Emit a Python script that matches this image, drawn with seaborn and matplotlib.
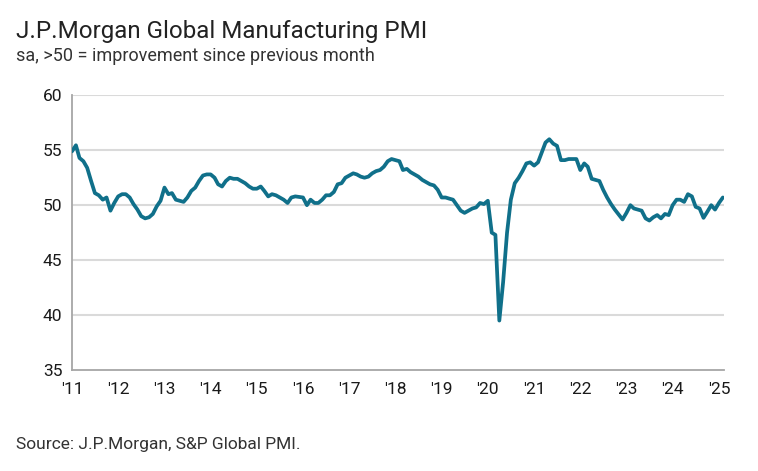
import pandas as pd
import numpy as np
import matplotlib
matplotlib.use("Agg")
import matplotlib.pyplot as plt
import seaborn as sns

# valores, mensal jan/2011 - fev/2025
pmi_2011 = [54.9, 55.45, 54.3, 54.0, 53.4, 52.2, 51.1, 50.9, 50.5, 50.7, 49.5, 50.2]
pmi_2012 = [50.8, 51.0, 51.0, 50.7, 50.1, 49.6, 49.0, 48.8, 48.9, 49.2, 49.9, 50.4]
pmi_2013 = [51.6, 51.0, 51.1, 50.5, 50.4, 50.3, 50.7, 51.3, 51.6, 52.2, 52.7, 52.8]
pmi_2014 = [52.8, 52.5, 51.9, 51.7, 52.2, 52.5, 52.4, 52.4, 52.2, 52.0, 51.7, 51.5]
pmi_2015 = [51.5, 51.7, 51.3, 50.8, 51.0, 50.9, 50.7, 50.5, 50.2, 50.7, 50.8, 50.75]
pmi_2016 = [50.7, 50.0, 50.5, 50.2, 50.2, 50.5, 50.9, 50.9, 51.2, 51.9, 52.0, 52.5]
pmi_2017 = [52.7, 52.9, 52.8, 52.6, 52.5, 52.6, 52.9, 53.1, 53.2, 53.5, 54.0, 54.2]
pmi_2018 = [54.1, 54.0, 53.2, 53.3, 53.0, 52.8, 52.6, 52.3, 52.1, 51.9, 51.8, 51.4]
pmi_2019 = [50.7, 50.7, 50.6, 50.5, 50.0, 49.5, 49.3, 49.5, 49.7, 49.8, 50.2, 50.1]
pmi_2020 = [50.4, 47.5, 47.3, 39.5, 43.0, 47.5, 50.5, 52.0, 52.5, 53.1, 53.8, 53.9]
pmi_2021 = [53.6, 53.9, 54.75, 55.7, 56.0, 55.6, 55.4, 54.1, 54.1, 54.2, 54.2, 54.2]
pmi_2022 = [53.2, 53.8, 53.5, 52.4, 52.3, 52.2, 51.4, 50.7, 50.1, 49.6, 49.15, 48.7]
pmi_2023 = [49.3, 50.0, 49.7, 49.6, 49.5, 48.8, 48.6, 48.9, 49.1, 48.8, 49.2, 49.1]
pmi_2024 = [50.0, 50.5, 50.5, 50.3, 51.0, 50.8, 49.85, 49.7, 48.85, 49.4, 50.0, 49.6]
pmi_2025 = [50.2, 50.7]

anos = list(range(2011, 2026))
rotulos_x = ["'" + str(a)[2:] for a in anos]
ticks_y = [35, 40, 45, 50, 55, 60]

valores = (pmi_2011 + pmi_2012 + pmi_2013 + pmi_2014 + pmi_2015 + pmi_2016 + pmi_2017
           + pmi_2018 + pmi_2019 + pmi_2020 + pmi_2021 + pmi_2022 + pmi_2023 + pmi_2024 + pmi_2025)
datas = pd.date_range("2011-01-01", periods=len(valores), freq="MS")
df = pd.DataFrame({"Data": datas, "PMI": valores})

sns.set_style("white")
plt.rcParams["font.family"] = ["Roboto", "DejaVu Sans"]

fig = plt.figure(figsize=(7.58, 4.71), dpi=100)
ax = fig.add_axes([72 / 758, 1 - 370 / 471, (724 - 72) / 758, (370 - 95.3) / 471])

# linhas de grade horizontais
for y in ticks_y[1:]:
    ax.axhline(y, color="#DADADA", lw=1.5, zorder=0)

sns.lineplot(data=df, x="Data", y="PMI", ax=ax, color="#10708A", lw=2.7, zorder=3)

ax.set_ylim(35, 60)
ax.set_xlim(pd.Timestamp("2011-01-01"), pd.Timestamp("2025-02-10"))
ax.set_yticks(ticks_y)
ax.set_xticks([pd.Timestamp(f"{a}-01-01") for a in anos])
ax.set_xticklabels(rotulos_x)
ax.set_xlabel("")
ax.set_ylabel("")

for s in ["top", "right"]:
    ax.spines[s].set_visible(False)
for s in ["left", "bottom"]:
    ax.spines[s].set_color("#A6A6A6")
    ax.spines[s].set_linewidth(1.3)
ax.tick_params(axis="both", direction="out", length=5, width=1.3, color="#A6A6A6",
               labelsize=12.5, labelcolor="#1A1A1A")
ax.tick_params(axis="x", pad=4)
ax.tick_params(axis="y", pad=2)

fig.text(16 / 758, 1 - 38 / 471, "J.P.Morgan Global Manufacturing PMI", fontsize=17.4, color="#222222")
fig.text(16 / 758, 1 - 61 / 471, "sa, >50 = improvement since previous month", fontsize=13, color="#333333")
fig.text(16 / 758, 1 - 449 / 471, "Source: J.P.Morgan, S&P Global PMI.", fontsize=12.5, color="#333333")

fig.savefig("out.png", dpi=100)
